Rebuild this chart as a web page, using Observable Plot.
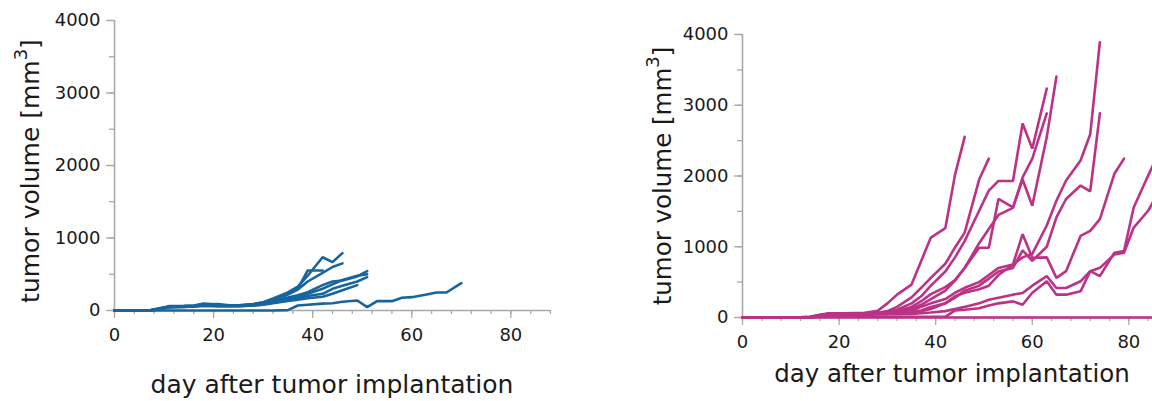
<!DOCTYPE html>
<html>
<head>
<meta charset="utf-8">
<script src="https://cdn.jsdelivr.net/npm/d3@7"></script>
<script src="https://cdn.jsdelivr.net/npm/@observablehq/plot@0.6"></script>
<style>
html, body { margin: 0; padding: 0; background: #fff; }
#wrap { position: relative; width: 1152px; height: 401px; overflow: hidden; background: #fff; }
#left { position: absolute; left: 0; top: 0; width: 620px; }
#right { position: absolute; left: 620px; top: 0; width: 560px; }
#wrap svg { max-width: none !important; display: block; }
</style>
</head>
<body>
<div id="wrap"><div id="left"></div><div id="right"></div></div>
<script>
// measurement days (shared schedule); each series lists volumes from day 0 until its last measurement
const days = [0,4,7,9,11,14,16,18,21,23,25,28,30,32,35,37,39,42,44,46,49,51,53,56,58,60,63,65,67,70,72,74,77,79,81,84,86,88];

// left panel (blue group), tumor volume in mm3
const leftVolumes = [
  [0,0,0,25,60,62,70,95,80,75,72,90,115,165,250,330,480,735,667,791],
  [0,0,0,30,55,60,65,85,90,70,68,85,110,150,240,300,552,552],
  [0,0,0,20,50,55,60,75,70,65,65,80,100,140,220,290,400,520,600,650],
  [0,0,0,15,45,50,55,65,60,62,60,70,85,110,150,175,200,230,299,340,400,460],
  [0,0,0,25,55,60,65,80,75,70,70,80,95,130,180,210,253,350,400,414,470,542],
  [0,0,0,20,50,55,60,70,65,68,65,75,90,120,160,190,230,300,360,420,480,500],
  [0,0,0,0,0,0,0,0,0,0,0,0,0,0,5,69,80,95,101,120,138,46,129,129,175,184,221,248,248,377],
  [0,0,0,20,45,50,55,65,60,60,60,70,80,100,130,150,170,190,230,280,350]
];

// right panel (magenta group), tumor volume in mm3
const rightVolumes = [
  [0,0,0,0,0,10,40,60,60,62,62,95,200,323,465,800,1129,1262,2016,2553],
  [0,0,0,0,0,10,35,55,58,60,60,65,90,150,285,420,560,760,990,1200,1950,2245],
  [0,0,0,0,0,8,30,55,55,58,58,62,75,110,200,300,450,650,850,1080,1509,1794,1930,1930,2743,2387,3236],
  [0,0,0,0,0,5,30,50,52,55,55,60,70,90,150,230,330,430,530,700,1050,1250,1450,1550,1980,2245,2885],
  [0,0,0,0,0,5,25,50,52,55,55,58,65,80,120,180,260,380,520,700,986,986,1675,1556,1950,1580,2550,3406],
  [0,0,0,0,0,5,25,50,50,52,52,55,60,70,100,150,200,260,350,420,500,600,700,750,850,900,1300,1651,1936,2220,2591,3891],
  [0,0,0,0,0,5,25,48,50,50,50,52,55,60,80,100,150,200,280,380,450,550,650,700,950,800,1000,1414,1675,1865,1784,2885],
  [0,0,0,0,0,5,20,45,48,50,50,50,55,60,70,90,120,200,300,350,400,450,600,750,1177,845,850,560,655,1153,1224,1390,2031,2245],
  [0,0,0,0,0,5,20,45,45,48,48,45,45,48,50,60,70,90,120,150,200,250,280,323,346,450,584,417,417,512,655,584,916,940,1556,2007,2300,2550],
  [0,0,0,0,0,0,10,20,20,20,20,15,12,10,10,10,10,10,100,110,130,170,200,228,181,350,512,323,323,370,655,702,890,916,1271,1509,1750,1900],
  [0,0,0,0,0,0,0,0,0,0,0,0,0,0,0,0,0,0,0,0,0,0,0,0,0,0,0,0,0,0,0,0,0,0,0,0,0,0]
];

const xTicksMajor = [0, 20, 40, 60, 80];
const yTicksMajor = [0, 1000, 2000, 3000, 4000];
const xTitle = "day after tumor implantation";
const yTitle = "tumor volume [mm";
const yTitleSup = "3";
const yTitleEnd = "]";

const FONT = "'DejaVu Sans', Verdana, sans-serif";

function panel(el, series, color, o) {
  const rows = series.flatMap((vals, m) => vals.map((v, i) => ({mouse: m, day: days[i], volume: v})));
  const svg = Plot.plot({
    width: o.width, height: 401,
    marginLeft: o.ml, marginRight: o.mr, marginTop: o.mt, marginBottom: o.mb,
    style: {fontFamily: FONT, fontSize: "18px", color: "#1a1a1a", background: "white", maxWidth: "none"},
    x: {domain: [0, 88]},
    y: {domain: [0, 4000]},
    marks: [
      Plot.ruleY([0], {stroke: "#a9a9a9", strokeWidth: 1.6}),
      Plot.ruleX([0], {stroke: "#a9a9a9", strokeWidth: 1.6}),
      Plot.axisX({ticks: d3.range(0, 89, 4), tickSize: 4, tickFormat: () => "", stroke: "#a9a9a9", strokeWidth: 1.3, label: null}),
      Plot.axisX({ticks: xTicksMajor, tickSize: 8, tickPadding: 10, tickFormat: d => String(d), stroke: "#a9a9a9", strokeWidth: 1.3, label: null}),
      Plot.axisY({ticks: d3.range(0, 4001, 500), tickSize: 5, tickFormat: () => "", stroke: "#a9a9a9", strokeWidth: 1.3, label: null}),
      Plot.axisY({ticks: yTicksMajor, tickSize: 8, tickPadding: 6, tickFormat: d => String(d), stroke: "#a9a9a9", strokeWidth: 1.3, label: null}),
      Plot.line(rows, {x: "day", y: "volume", z: "mouse", stroke: color, strokeWidth: 2.6, strokeLinejoin: "miter"})
    ]
  });
  const s = d3.select(svg);
  s.append("text")
    .attr("x", o.xtX).attr("y", o.xtY)
    .attr("text-anchor", "middle")
    .style("font-family", FONT).style("font-size", o.fs + "px").attr("fill", "#1a1a1a")
    .text(xTitle);
  const t = s.append("text")
    .attr("transform", `translate(${o.ytX},${o.ytY}) rotate(-90)`)
    .attr("text-anchor", "middle")
    .style("font-family", FONT).style("font-size", o.fs + "px").attr("fill", "#1a1a1a");
  t.append("tspan").text(yTitle);
  t.append("tspan").attr("dy", -12).style("font-size", "18px").text(yTitleSup);
  t.append("tspan").attr("dy", 12).text(yTitleEnd);
  el.appendChild(svg);
}

panel(document.getElementById("left"), leftVolumes, "#17659e",
  {width: 620, ml: 114, mr: 70, mt: 20, mb: 91, xtX: 332, xtY: 393, ytX: 39, ytY: 171, fs: 25});
panel(document.getElementById("right"), rightVolumes, "#bb3286",
  {width: 560, ml: 122, mr: 13, mt: 34, mb: 84, xtX: 332, xtY: 382, ytX: 51, ytY: 176, fs: 24.5});
</script>
</body>
</html>
